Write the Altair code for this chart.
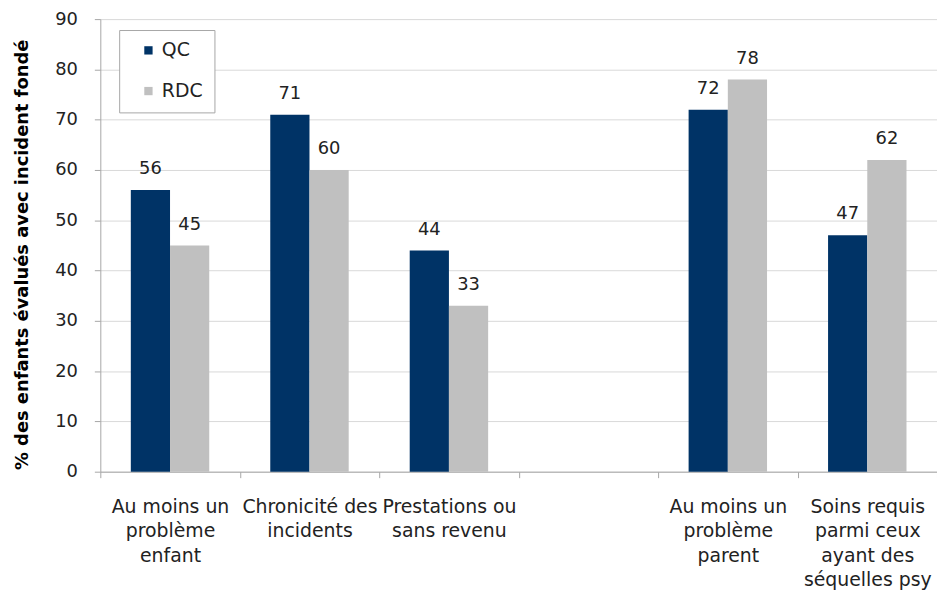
import altair as alt
import pandas as pd

categories = [
    "Au moins un|problème|enfant",
    "Chronicité des|incidents",
    "Prestations ou|sans revenu",
    " ",
    "Au moins un|problème|parent",
    "Soins requis|parmi ceux|ayant des|séquelles psy",
]
series = ["QC", "RDC"]
qc_values = [56, 71, 44, None, 72, 47]
rdc_values = [45, 60, 33, None, 78, 62]
y_ticks = list(range(0, 91, 10))
colors = ["#003366", "#c0c0c0"]

rows = []
for c, q, r in zip(categories, qc_values, rdc_values):
    if q is not None:
        rows.append({"cat": c, "series": "QC", "value": q})
    if r is not None:
        rows.append({"cat": c, "series": "RDC", "value": r})
df = pd.DataFrame(rows)

W, H = 843, 456
FONT = "DejaVu Sans"

base = alt.Chart(df).encode(
    x=alt.X(
        "cat:N",
        sort=categories,
        scale=alt.Scale(domain=categories, paddingInner=0, paddingOuter=0),
        axis=alt.Axis(
            title=None,
            labelAngle=0,
            labelExpr="split(datum.label, '|')",
            labelFont=FONT,
            labelFontSize=19,
            labelColor="#222222",
            labelLineHeight=24.5,
            labelBaseline="top",
            labelPadding=20,
            labelLimit=0,
            tickSize=6,
            tickBand="extent",
            tickColor="#a6a6a6",
            domainColor="#a6a6a6",
            grid=False,
        ),
    ),
    xOffset=alt.XOffset(
        "series:N",
        sort=series,
        scale=alt.Scale(domain=series, paddingInner=0, paddingOuter=0.778),
    ),
    y=alt.Y(
        "value:Q",
        scale=alt.Scale(domain=[0, 90], nice=False),
        axis=alt.Axis(
            values=y_ticks,
            title="% des enfants évalués avec incident fondé",
            titleFont=FONT,
            titleFontSize=18,
            titleFontWeight="bold",
            titleColor="#000000",
            titleAngle=270,
            titleX=-78,
            titleY=237,
            titleAlign="center",
            titleBaseline="middle",
            labelFont=FONT,
            labelFontSize=18,
            labelColor="#222222",
            labelPadding=17,
            tickSize=6,
            tickColor="#a6a6a6",
            domainColor="#a6a6a6",
            gridColor="#d9d9d9",
        ),
    ),
)

bars = base.mark_bar().encode(
    color=alt.Color(
        "series:N",
        scale=alt.Scale(domain=series, range=colors),
        legend=alt.Legend(
            title=None,
            orient="none",
            legendX=19,
            legendY=11,
            padding=11,
            symbolOffset=9,
            rowPadding=21,
            strokeColor="#a6a6a6",
            fillColor="#ffffff",
            labelFont=FONT,
            labelFontSize=19,
            labelColor="#222222",
            labelOffset=4,
            symbolType="square",
            symbolSize=70,
            symbolStrokeWidth=0,
        ),
    )
)

labels = base.mark_text(
    baseline="alphabetic", dy=-16, fontSize=18, font=FONT, color="#222222"
).encode(text="value:Q")

chart = (
    (bars + labels)
    .properties(
        width=W,
        height=H,
        padding={"left": 93, "top": 9, "right": 0, "bottom": 117},
        autosize=alt.AutoSizeParams(type="none"),
    )
    .configure_view(stroke=None)
)

chart.save("out.html", embed_options={"renderer": "svg", "actions": False})
